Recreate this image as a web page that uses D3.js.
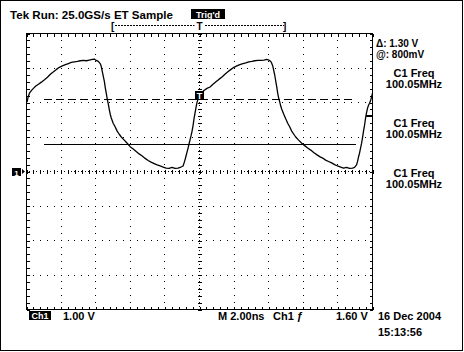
<!DOCTYPE html>
<html><head><meta charset="utf-8">
<script src="https://cdn.jsdelivr.net/npm/d3@7"></script>
<style>
body{margin:0;background:#fff}
svg{display:block}
text{font-family:"Liberation Sans",Arial,sans-serif;font-weight:bold;fill:#000}
</style>
</head><body>
<svg id="c" width="464" height="352"></svg>
<script>
// ---- data (time in ns from left edge of screen, voltage in V) ----
const timeNs = [0.03,0.09,0.17,0.29,0.40,0.52,0.69,0.86,1.04,1.21,1.38,1.56,1.73,1.90,2.07,2.25,2.42,2.59,2.77,2.94,3.11,3.29,3.46,3.63,3.80,3.92,4.03,4.15,4.27,4.32,4.38,4.44,4.50,4.55,4.61,4.67,4.73,4.78,4.84,4.90,5.01,5.13,5.24,5.36,5.48,5.65,5.82,5.99,6.17,6.34,6.51,6.69,6.86,7.03,7.20,7.38,7.55,7.72,7.90,8.07,8.24,8.41,8.59,8.76,8.93,9.05,9.11,9.16,9.22,9.28,9.34,9.39,9.45,9.51,9.57,9.63,9.68,9.74,9.80,9.86,9.91,9.97,10.09,10.26,10.43,10.61,10.78,10.95,11.12,11.30,11.47,11.64,11.82,11.99,12.16,12.33,12.51,12.68,12.85,13.03,13.20,13.37,13.54,13.72,13.89,14.01,14.12,14.18,14.24,14.29,14.35,14.41,14.47,14.52,14.58,14.64,14.70,14.75,14.87,14.99,15.10,15.22,15.33,15.45,15.56,15.73,15.91,16.08,16.25,16.43,16.60,16.77,16.95,17.12,17.29,17.46,17.64,17.81,17.98,18.16,18.33,18.50,18.67,18.85,18.96,19.08,19.14,19.19,19.25,19.31,19.37,19.42,19.48,19.54,19.60,19.65,19.71,19.77,19.83,19.88,19.94,20.00];
const volts = [2.01,2.15,2.27,2.35,2.41,2.47,2.53,2.59,2.66,2.73,2.82,2.89,2.96,3.02,3.06,3.10,3.13,3.16,3.18,3.19,3.21,3.22,3.21,3.23,3.25,3.26,3.22,3.19,3.12,3.05,2.90,2.76,2.61,2.44,2.27,2.09,1.95,1.81,1.66,1.55,1.40,1.29,1.17,1.08,1.00,0.91,0.82,0.72,0.65,0.58,0.51,0.45,0.38,0.32,0.27,0.23,0.19,0.16,0.13,0.10,0.09,0.12,0.09,0.10,0.13,0.16,0.25,0.33,0.45,0.56,0.68,0.79,0.91,1.03,1.17,1.34,1.52,1.69,1.86,2.01,2.09,2.18,2.27,2.35,2.41,2.45,2.53,2.60,2.67,2.74,2.82,2.89,2.96,3.02,3.06,3.10,3.13,3.15,3.18,3.19,3.21,3.22,3.22,3.23,3.25,3.23,3.19,3.13,3.05,2.93,2.79,2.61,2.44,2.27,2.12,2.01,1.89,1.81,1.66,1.52,1.40,1.29,1.17,1.08,1.00,0.91,0.82,0.75,0.68,0.62,0.55,0.49,0.43,0.39,0.33,0.29,0.25,0.20,0.16,0.13,0.10,0.12,0.09,0.10,0.12,0.19,0.30,0.42,0.53,0.68,0.82,0.97,1.17,1.34,1.55,1.69,1.83,1.92,1.98,2.04,2.15,2.27];

const timeDomain = [0, 20];      // 10 div x 2.00 ns
const voltDomain = [-4, 4];      // 8 div x 1.00 V
const cursorLevels = [2.10, 0.80]; // dashed, solid
const triggerLevel = 1.60;
const triggerTime = 10;

const headerText = "Tek Run: 25.0GS/s ET Sample";
const trigStatus = "Trig'd";
const cursorReadouts = ["\u0394: 1.30 V", "@: 800mV"];
const measLabels = ["C1 Freq", "C1 Freq", "C1 Freq"];
const measValues = ["100.05MHz", "100.05MHz", "100.05MHz"];
const bottomTexts = ["1.00 V", "M 2.00ns", "Ch1 \u0192", "1.60 V"];
const dateTexts = ["16 Dec 2004", "15:13:56"];

// ---- drawing ----
const svg = d3.select("#c");
const L = 26.5, R = 372.5, T = 33.5, B = 309.5;
const x = d3.scaleLinear().domain(timeDomain).range([L, R]);
const y = d3.scaleLinear().domain(voltDomain).range([B, T]);

// outer frame
svg.append("rect").attr("x",0.5).attr("y",0.5).attr("width",462).attr("height",350)
  .attr("fill","none").attr("stroke","#000");

const g = svg.append("g").attr("shape-rendering","crispEdges");
const minorT = d3.range(0, 20.0001, 0.4);
const minorV = d3.range(-4, 4.0001, 0.2);
const majorT = d3.range(2, 19, 2);
const majorV = d3.range(-3, 4, 1);

// dotted grid
majorT.filter(t => t !== triggerTime).forEach(t => {
  minorV.forEach(v => g.append("rect").attr("x", Math.round(x(t)-0.5)).attr("y", Math.round(y(v)-0.5)).attr("width",1).attr("height",1).attr("fill","#000"));
});
majorV.filter(v => v !== 0).forEach(v => {
  minorT.forEach(t => g.append("rect").attr("x", Math.round(x(t)-0.5)).attr("y", Math.round(y(v)-0.5)).attr("width",1).attr("height",1).attr("fill","#000"));
});
// center lines with fine dots and crossing ticks
d3.range(0, 20.0001, 0.2).forEach(t => g.append("rect").attr("x", Math.round(x(t)-0.5)).attr("y", Math.round(y(0)-0.5)).attr("width",1).attr("height",1).attr("fill","#000"));
minorT.forEach(t => g.append("line").attr("x1", Math.round(x(t))+0.5).attr("x2", Math.round(x(t))+0.5).attr("y1", y(0)-2).attr("y2", y(0)+2).attr("stroke","#000"));
d3.range(-4, 4.0001, 0.1).forEach(v => g.append("rect").attr("x", Math.round(x(triggerTime)-0.5)).attr("y", Math.round(y(v)-0.5)).attr("width",1).attr("height",1).attr("fill","#000"));
minorV.forEach(v => g.append("line").attr("y1", Math.round(y(v))+0.5).attr("y2", Math.round(y(v))+0.5).attr("x1", x(triggerTime)-2).attr("x2", x(triggerTime)+2).attr("stroke","#000"));

// border + edge ticks
g.append("rect").attr("x",L).attr("y",T).attr("width",R-L).attr("height",B-T).attr("fill","none").attr("stroke","#000");
minorT.forEach(t => {
  g.append("line").attr("x1",Math.round(x(t))+0.5).attr("x2",Math.round(x(t))+0.5).attr("y1",T).attr("y2",T+3).attr("stroke","#000");
  g.append("line").attr("x1",Math.round(x(t))+0.5).attr("x2",Math.round(x(t))+0.5).attr("y1",B).attr("y2",B-3).attr("stroke","#000");
});
minorV.forEach(v => {
  g.append("line").attr("y1",Math.round(y(v))+0.5).attr("y2",Math.round(y(v))+0.5).attr("x1",L).attr("x2",L+3).attr("stroke","#000");
  g.append("line").attr("y1",Math.round(y(v))+0.5).attr("y2",Math.round(y(v))+0.5).attr("x1",R).attr("x2",R-3).attr("stroke","#000");
});

// cursors
g.append("line").attr("x1",44).attr("x2",356).attr("y1",Math.round(y(cursorLevels[0]))+0.5).attr("y2",Math.round(y(cursorLevels[0]))+0.5)
  .attr("stroke","#000").attr("stroke-dasharray","8,4");
g.append("line").attr("x1",44).attr("x2",356).attr("y1",Math.round(y(cursorLevels[1]))+0.5).attr("y2",Math.round(y(cursorLevels[1]))+0.5)
  .attr("stroke","#000");

// trigger level marker on right edge
g.append("line").attr("x1",R-7).attr("x2",R).attr("y1",y(triggerLevel)).attr("y2",y(triggerLevel)).attr("stroke","#000").attr("stroke-width",2);

// waveform
const pts = timeNs.map((t,i) => [t, volts[i]]);
svg.append("path").datum(pts)
  .attr("d", d3.line().x(d => x(d[0])).y(d => y(d[1])))
  .attr("fill","none").attr("stroke","#000").attr("stroke-width",1.3).attr("stroke-linejoin","round");

// trigger point box
svg.append("rect").attr("x",x(triggerTime)-4.5).attr("y",91).attr("width",9).attr("height",9).attr("fill","#000");
svg.append("text").attr("x",x(triggerTime)).attr("y",99).attr("text-anchor","middle").style("font-size","9px").style("fill","#fff").text("T");

// ground marker
svg.append("rect").attr("x",12).attr("y",168).attr("width",9).attr("height",8).attr("fill","#000");
svg.append("text").attr("x",16.5).attr("y",175.5).attr("text-anchor","middle").style("font-size","8px").style("fill","#fff").text("1");
svg.append("path").attr("d",`M22,${y(0)-2.5}L25,${y(0)}L22,${y(0)+2.5}Z`).attr("fill","#000");

// header
svg.append("text").attr("x",10).attr("y",18.5).style("font-size","11px")
  .attr("textLength",163).attr("lengthAdjust","spacingAndGlyphs").text(headerText);
svg.append("rect").attr("x",191).attr("y",9).attr("width",34).attr("height",10).attr("fill","#000");
svg.append("text").attr("x",208).attr("y",17.5).attr("text-anchor","middle").style("font-size","9px").style("fill","#fff").text(trigStatus);

// record view bar
svg.append("line").attr("x1",115).attr("x2",284).attr("y1",25.5).attr("y2",25.5).attr("stroke","#000").attr("stroke-dasharray","2,1").attr("shape-rendering","crispEdges");
svg.append("text").attr("x",111).attr("y",30).style("font-size","10px").text("[");
svg.append("text").attr("x",283).attr("y",30).style("font-size","10px").text("]");
svg.append("rect").attr("x",x(triggerTime)-5).attr("y",22.5).attr("width",10).attr("height",6).attr("fill","#fff");
svg.append("text").attr("x",x(triggerTime)).attr("y",30).attr("text-anchor","middle").style("font-size","10px").text("T");

// right readouts
svg.append("text").attr("x",376).attr("y",46.5).style("font-size","10px").text(cursorReadouts[0]);
svg.append("text").attr("x",376).attr("y",58).style("font-size","10px").text(cursorReadouts[1]);
const measY = [77, 127, 177];
measLabels.forEach((s,i) => {
  svg.append("text").attr("x",414).attr("y",measY[i]).attr("text-anchor","middle").style("font-size","11px").text(s);
  svg.append("text").attr("x",414).attr("y",measY[i]+10.5).attr("text-anchor","middle").style("font-size","11px").text(measValues[i]);
});

// bottom readouts
svg.append("rect").attr("x",29).attr("y",311).attr("width",22).attr("height",9).attr("fill","#000");
svg.append("text").attr("x",40).attr("y",319).attr("text-anchor","middle").style("font-size","9px").style("fill","#fff").text("Ch1");
const bottomX = [63, 218, 273, 336];
bottomTexts.forEach((s,i) => svg.append("text").attr("x",bottomX[i]).attr("y",319.5).style("font-size","11px").text(s));
svg.append("text").attr("x",378).attr("y",319.5).style("font-size","11px").text(dateTexts[0]);
svg.append("text").attr("x",378).attr("y",336).style("font-size","11px").text(dateTexts[1]);
</script>
</body></html>
